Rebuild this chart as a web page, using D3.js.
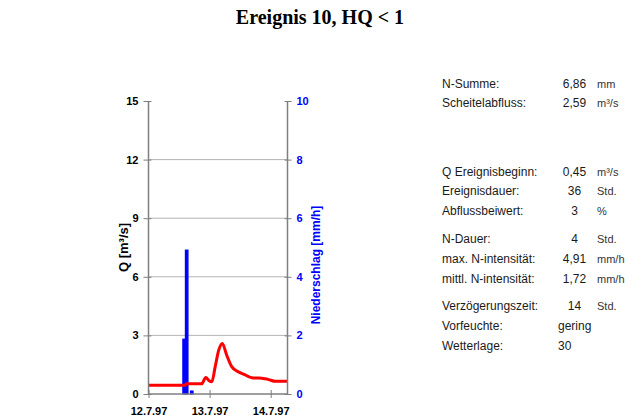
<!DOCTYPE html>
<html><head><meta charset="utf-8">
<script src="https://cdn.jsdelivr.net/npm/d3@7"></script>
<style>
body{margin:0;background:#fff;}
svg{display:block;}
</style></head>
<body>
<svg id="c" width="643" height="419"></svg>
<script>
// ---- data ----
const title = "Ereignis 10, HQ < 1";
const qTicks = [0, 3, 6, 9, 12, 15];
const nTicks = [0, 2, 4, 6, 8, 10];
const dateTicks = [0, 24, 48];           // hours since 12.7.97 00:00
const dateLabels = ["12.7.97", "13.7.97", "14.7.97"];
const rainHours = [14, 15, 17];
const rainValues = [1.87, 4.91, 0.10];
const qHours = [0, 14.4, 14.8, 20.9, 22.5, 23.8, 24.9, 26.2, 27.6, 29.0, 30.7, 32.7, 34.7, 37.3, 41.2, 43.5, 45.8, 47.7, 49.7, 54.6];
const qValues = [0.45, 0.45, 0.52, 0.52, 0.85, 0.68, 0.63, 1.4, 2.25, 2.59, 2.0, 1.4, 1.18, 1.02, 0.82, 0.82, 0.78, 0.72, 0.65, 0.65];
const infoLabels = ["N-Summe:", "Scheitelabfluss:", "Q Ereignisbeginn:", "Ereignisdauer:", "Abflussbeiwert:", "N-Dauer:", "max. N-intensität:", "mittl. N-intensität:", "Verzögerungszeit:", "Vorfeuchte:", "Wetterlage:"];
const infoValues = ["6,86", "2,59", "0,45", "36", "3", "4", "4,91", "1,72", "14", "gering", "30"];
const infoUnits = ["mm", "m³/s", "m³/s", "Std.", "%", "Std.", "mm/h", "mm/h", "Std.", "", ""];
const infoRows = [88, 107, 176, 195, 215, 243, 263, 283, 310, 330, 350];

// ---- layout ----
const svg = d3.select("#c");
const L = 148.5, R = 287.5, T = 101, B = 394;
const x = d3.scaleLinear().domain([0, 54.6]).range([L, R]);
const yQ = d3.scaleLinear().domain([0, 15]).range([B, T]);
const yN = d3.scaleLinear().domain([0, 10]).range([B, T]);
const axisGray = "#7f7f7f";

svg.append("text").attr("x", 320).attr("y", 24).attr("text-anchor", "middle")
  .attr("font-family", "Liberation Serif, Times New Roman, serif").attr("font-weight", "bold")
  .attr("font-size", 20).attr("fill", "#000").text(title);

// gridlines
svg.append("g").selectAll("line").data(qTicks.filter(d => d > 0 && d < 15)).join("line")
  .attr("x1", L).attr("x2", R).attr("y1", d => yQ(d)).attr("y2", d => yQ(d))
  .attr("stroke", "#b4b4b4").attr("stroke-width", 1);

// rain bars
svg.append("g").selectAll("rect").data(rainHours).join("rect")
  .attr("x", d => x(d - 0.5)).attr("width", d => x(d + 0.5) - x(d - 0.5))
  .attr("y", (d, i) => yN(rainValues[i])).attr("height", (d, i) => yN(0) - yN(rainValues[i]))
  .attr("fill", "#0000ff").attr("stroke", "#0000ff").attr("stroke-width", 1.2);

// discharge line
const line = d3.line().x((d, i) => x(qHours[i])).y(d => yQ(d)).curve(d3.curveMonotoneX);
svg.append("path").datum(qValues).attr("d", line).attr("fill", "none")
  .attr("stroke", "#ff0000").attr("stroke-width", 3).attr("stroke-linejoin", "round");

// left axis
const gl = svg.append("g").attr("transform", `translate(${L},0)`)
  .call(d3.axisLeft(yQ).tickValues(qTicks).tickSize(5).tickPadding(5));
gl.select(".domain").attr("stroke", axisGray).attr("stroke-width", 1.5).attr("d", `M0,${T}V${B}`);
gl.selectAll(".tick line").attr("stroke", axisGray).attr("x1", 3).attr("x2", -5);
gl.selectAll(".tick text").attr("font-family", "Liberation Sans, Arial, sans-serif").attr("font-weight", "bold")
  .attr("font-size", 11).attr("fill", "#000");

// right axis
const gr = svg.append("g").attr("transform", `translate(${R},0)`)
  .call(d3.axisRight(yN).tickValues(nTicks).tickSize(4).tickPadding(5));
gr.select(".domain").attr("stroke", axisGray).attr("stroke-width", 1.5).attr("d", `M0,${T}V${B}`);
gr.selectAll(".tick line").attr("stroke", axisGray).attr("x1", -3).attr("x2", 4);
gr.selectAll(".tick text").attr("font-family", "Liberation Sans, Arial, sans-serif").attr("font-weight", "bold")
  .attr("font-size", 11).attr("fill", "#0000ff");

// bottom axis
const gb = svg.append("g").attr("transform", `translate(0,${B})`)
  .call(d3.axisBottom(x).tickValues(dateTicks).tickFormat((d, i) => dateLabels[i]).tickSize(4).tickPadding(9));
gb.select(".domain").attr("stroke", axisGray).attr("stroke-width", 1.5).attr("d", `M${L},0H${R}`);
gb.selectAll(".tick line").attr("stroke", axisGray).attr("y1", -4).attr("y2", 4);
gb.selectAll(".tick text").attr("font-family", "Liberation Sans, Arial, sans-serif").attr("font-weight", "bold")
  .attr("font-size", 11).attr("fill", "#000");

// axis titles
svg.append("text").attr("transform", `translate(128,${(T + B) / 2}) rotate(-90)`).attr("text-anchor", "middle")
  .attr("font-family", "Liberation Sans, Arial, sans-serif").attr("font-weight", "bold").attr("font-size", 13)
  .attr("fill", "#000").text("Q [m³/s]");
svg.append("text").attr("transform", `translate(320,265) rotate(-90)`).attr("text-anchor", "middle")
  .attr("font-family", "Liberation Sans, Arial, sans-serif").attr("font-weight", "bold").attr("font-size", 12)
  .attr("fill", "#0000ff").text("Niederschlag [mm/h]");

// info table
const info = svg.append("g").attr("font-family", "Liberation Sans, Arial, sans-serif").attr("fill", "#1a1a1a");
info.selectAll(".lab").data(infoLabels).join("text").attr("class", "lab")
  .attr("x", 442).attr("y", (d, i) => infoRows[i]).attr("font-size", 12).text(d => d);
info.selectAll(".val").data(infoValues).join("text").attr("class", "val")
  .attr("x", (d, i) => i >= 9 ? 558 : 574.5).attr("text-anchor", (d, i) => i >= 9 ? "start" : "middle")
  .attr("y", (d, i) => infoRows[i]).attr("font-size", 12).text(d => d);
info.selectAll(".unit").data(infoUnits).join("text").attr("class", "unit")
  .attr("x", 597).attr("y", (d, i) => infoRows[i]).attr("font-size", 11).attr("fill", "#333").text(d => d);
</script>
</body></html>
